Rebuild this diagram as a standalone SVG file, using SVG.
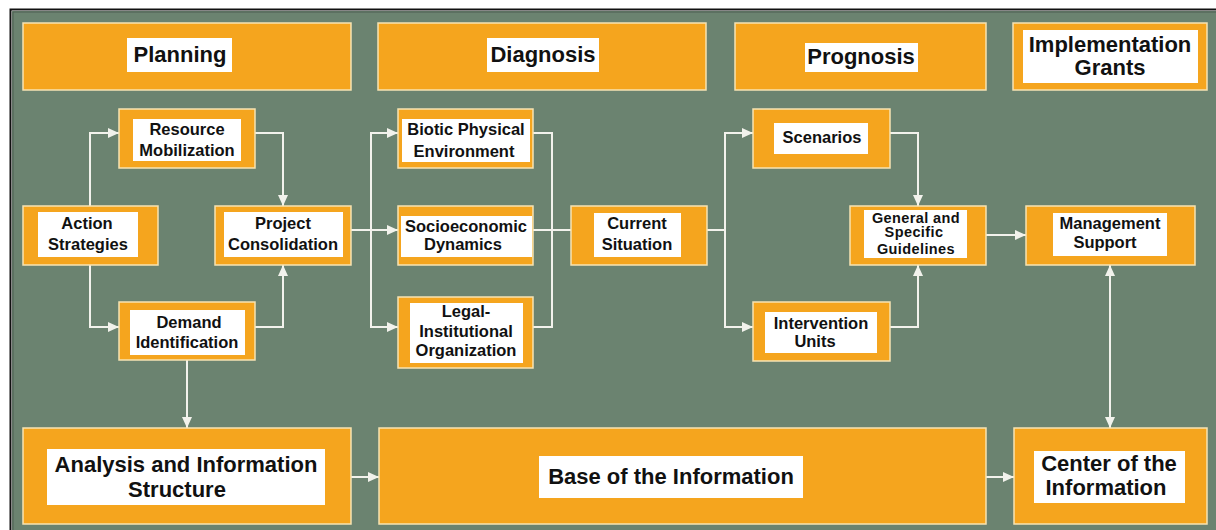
<svg xmlns="http://www.w3.org/2000/svg" width="1216" height="530" viewBox="0 0 1216 530">
  <defs>
    <marker id="arrow" markerUnits="userSpaceOnUse" markerWidth="11" markerHeight="10" refX="11" refY="5" orient="auto-start-reverse">
      <path d="M0,0 L11,5 L0,10 z" fill="#f2f2ec"/>
    </marker>
    <style>
      .panel { fill: #6b8370; }
      .box { fill: #f5a51e; stroke: #f7e4b2; stroke-width: 1.5; }
      .label { fill: #ffffff; }
      .t { font-family: "Liberation Sans", Arial, sans-serif; font-weight: bold; fill: #111; text-anchor: middle; }
      .h { font-size: 22px; }
      .n { font-size: 16.5px; }
      .s { font-size: 14.5px; letter-spacing: 0.4px; }
      .conn path { fill: none; stroke: #f2f2ec; stroke-width: 2; }
      .conn path.a { marker-end: url(#arrow); }
    </style>
  </defs>

  <!-- page and framed panel -->
  <rect x="0" y="0" width="1216" height="530" fill="#ffffff"/>
  <rect x="12" y="11" width="1210" height="525" class="panel"/>
  <path d="M10.5,530 V9.5 H1216" fill="none" stroke="#111" stroke-width="2"/>
  <path d="M13,530 V12 H1216" fill="none" stroke="#4f5f52" stroke-width="1"/>

  <!-- connectors -->
  <g id="connectors" class="conn">
    <path class="a" d="M90,206 V133 H119"/>
    <path class="a" d="M90,265 V327 H119"/>
    <path class="a" d="M255,133 H283 V206"/>
    <path class="a" d="M255,327 H283 V265"/>
    <path class="a" d="M351,230 H371 V133 H398"/>
    <path class="a" d="M351,230 H398"/>
    <path class="a" d="M371,230 V327 H398"/>
    <path d="M533,133 H552 V327 H533"/>
    <path d="M533,230 H571"/>
    <path class="a" d="M707,230 H725 V133 H753"/>
    <path class="a" d="M725,230 V327 H753"/>
    <path class="a" d="M890,133 H918 V206"/>
    <path class="a" d="M890,327 H918 V265"/>
    <path class="a" d="M986,235 H1026"/>
    <path class="a" d="M1110,265 V428" marker-start="url(#arrow)"/>
    <path class="a" d="M187,360 V428"/>
    <path class="a" d="M351,477 H379"/>
    <path class="a" d="M986,477 H1014"/>
  </g>

  <!-- phase headings -->
  <g id="planning">
    <rect class="box" x="23" y="23" width="328" height="67"/>
    <rect class="label" x="127" y="38" width="105" height="34"/>
    <text class="t h" x="180" y="62">Planning</text>
  </g>
  <g id="diagnosis">
    <rect class="box" x="378" y="23" width="328" height="67"/>
    <rect class="label" x="487" y="38" width="112" height="34"/>
    <text class="t h" x="543" y="62">Diagnosis</text>
  </g>
  <g id="prognosis">
    <rect class="box" x="735" y="23" width="251" height="67"/>
    <rect class="label" x="805" y="43" width="113" height="29"/>
    <text class="t h" x="861" y="64">Prognosis</text>
  </g>
  <g id="implementation-grants">
    <rect class="box" x="1013" y="23" width="194" height="67"/>
    <rect class="label" x="1023" y="30" width="175" height="53"/>
    <text class="t h" x="1110" y="52">Implementation</text>
    <text class="t h" x="1110" y="75">Grants</text>
  </g>

  <!-- planning steps -->
  <g id="resource-mobilization">
    <rect class="box" x="119" y="109" width="136" height="59"/>
    <rect class="label" x="133" y="119" width="108" height="42"/>
    <text class="t n" x="187" y="135">Resource</text>
    <text class="t n" x="187" y="156">Mobilization</text>
  </g>
  <g id="action-strategies">
    <rect class="box" x="23" y="206" width="135" height="59"/>
    <rect class="label" x="38" y="212" width="100" height="45"/>
    <text class="t n" x="87" y="229">Action</text>
    <text class="t n" x="88" y="250">Strategies</text>
  </g>
  <g id="project-consolidation">
    <rect class="box" x="215" y="206" width="136" height="59"/>
    <rect class="label" x="224" y="212" width="119" height="45"/>
    <text class="t n" x="283" y="229">Project</text>
    <text class="t n" x="283" y="250">Consolidation</text>
  </g>
  <g id="demand-identification">
    <rect class="box" x="119" y="302" width="136" height="58"/>
    <rect class="label" x="130" y="310" width="115" height="45"/>
    <text class="t n" x="189" y="328">Demand</text>
    <text class="t n" x="187" y="348">Identification</text>
  </g>

  <!-- diagnosis steps -->
  <g id="biotic-physical-environment">
    <rect class="box" x="398" y="109" width="135" height="59"/>
    <rect class="label" x="402" y="119" width="128" height="43"/>
    <text class="t n" x="466" y="135">Biotic Physical</text>
    <text class="t n" x="464" y="157">Environment</text>
  </g>
  <g id="socioeconomic-dynamics">
    <rect class="box" x="398" y="206" width="135" height="59"/>
    <rect class="label" x="401" y="216" width="131" height="41"/>
    <text class="t n" x="466" y="232">Socioeconomic</text>
    <text class="t n" x="463" y="250">Dynamics</text>
  </g>
  <g id="legal-institutional-organization">
    <rect class="box" x="398" y="297" width="135" height="71"/>
    <rect class="label" x="410" y="303" width="113" height="60"/>
    <text class="t n" x="466" y="317">Legal-</text>
    <text class="t n" x="466" y="337">Institutional</text>
    <text class="t n" x="466" y="356">Organization</text>
  </g>
  <g id="current-situation">
    <rect class="box" x="571" y="206" width="136" height="59"/>
    <rect class="label" x="594" y="213" width="87" height="44"/>
    <text class="t n" x="637" y="229">Current</text>
    <text class="t n" x="637" y="250">Situation</text>
  </g>

  <!-- prognosis steps -->
  <g id="scenarios">
    <rect class="box" x="753" y="109" width="137" height="59"/>
    <rect class="label" x="774" y="123" width="94" height="31"/>
    <text class="t n" x="822" y="143">Scenarios</text>
  </g>
  <g id="intervention-units">
    <rect class="box" x="753" y="302" width="137" height="59"/>
    <rect class="label" x="765" y="312" width="112" height="41"/>
    <text class="t n" x="821" y="329">Intervention</text>
    <text class="t n" x="815" y="347">Units</text>
  </g>
  <g id="general-specific-guidelines">
    <rect class="box" x="850" y="206" width="136" height="59"/>
    <rect class="label" x="864" y="210" width="103" height="48"/>
    <text class="t s" x="916" y="223">General and</text>
    <text class="t s" x="914" y="237">Specific</text>
    <text class="t s" x="916" y="254">Guidelines</text>
  </g>
  <g id="management-support">
    <rect class="box" x="1026" y="206" width="169" height="59"/>
    <rect class="label" x="1053" y="213" width="114" height="43"/>
    <text class="t n" x="1110" y="229">Management</text>
    <text class="t n" x="1105" y="248">Support</text>
  </g>

  <!-- information layer -->
  <g id="analysis-information-structure">
    <rect class="box" x="23" y="428" width="328" height="96"/>
    <rect class="label" x="47" y="449" width="278" height="56"/>
    <text class="t h" x="186" y="472">Analysis and Information</text>
    <text class="t h" x="177" y="497">Structure</text>
  </g>
  <g id="base-of-information">
    <rect class="box" x="379" y="428" width="607" height="96"/>
    <rect class="label" x="539" y="456" width="264" height="42"/>
    <text class="t h" x="671" y="484">Base of the Information</text>
  </g>
  <g id="center-of-information">
    <rect class="box" x="1014" y="428" width="193" height="96"/>
    <rect class="label" x="1034" y="451" width="151" height="52"/>
    <text class="t h" x="1109" y="471">Center of the</text>
    <text class="t h" x="1106" y="495">Information</text>
  </g>
</svg>
